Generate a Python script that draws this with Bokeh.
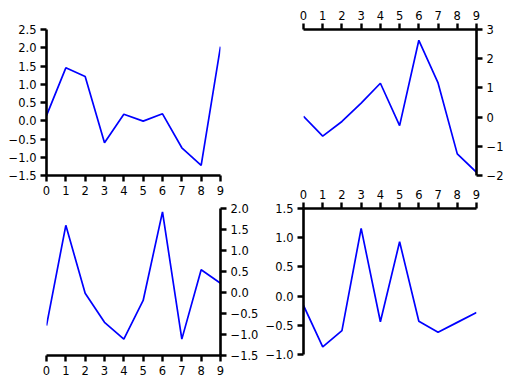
from bokeh.plotting import figure
from bokeh.layouts import row, column
from bokeh.models import Range1d, FixedTicker
from bokeh.embed import file_html
from bokeh.resources import INLINE

x = [0, 1, 2, 3, 4, 5, 6, 7, 8, 9]
x_labels = ["0", "1", "2", "3", "4", "5", "6", "7", "8", "9"]

y1 = [0.14, 1.45, 1.21, -0.60, 0.18, -0.01, 0.19, -0.74, -1.22, 2.03]
y2 = [0.03, -0.65, -0.15, 0.48, 1.16, -0.29, 2.63, 1.17, -1.26, -1.89]
y3 = [-0.79, 1.60, -0.02, -0.71, -1.11, -0.19, 1.92, -1.11, 0.54, 0.22]
y4 = [-0.16, -0.87, -0.59, 1.16, -0.44, 0.93, -0.43, -0.62, -0.45, -0.28]

yt1 = [-1.5, -1.0, -0.5, 0.0, 0.5, 1.0, 1.5, 2.0, 2.5]
yl1 = ["\u22121.5", "\u22121.0", "\u22120.5", "0.0", "0.5", "1.0", "1.5", "2.0", "2.5"]
yt2 = [-2, -1, 0, 1, 2, 3]
yl2 = ["\u22122", "\u22121", "0", "1", "2", "3"]
yt3 = [-1.5, -1.0, -0.5, 0.0, 0.5, 1.0, 1.5, 2.0]
yl3 = ["\u22121.5", "\u22121.0", "\u22120.5", "0.0", "0.5", "1.0", "1.5", "2.0"]
yt4 = [-1.0, -0.5, 0.0, 0.5, 1.0, 1.5]
yl4 = ["\u22121.0", "\u22120.5", "0.0", "0.5", "1.0", "1.5"]

FONT = "DejaVu Sans"


def style_axis(ax, ticks, labels):
    ax.ticker = FixedTicker(ticks=ticks)
    ax.major_label_overrides = {t: l for t, l in zip(ticks, labels)}
    ax.axis_line_width = 2.6
    ax.axis_line_color = "black"
    ax.major_tick_line_width = 2.4
    ax.major_tick_line_color = "black"
    ax.major_tick_out = 6
    ax.major_tick_in = 0
    ax.minor_tick_line_color = None
    ax.major_label_text_font = FONT
    ax.major_label_text_font_size = "11.5px"
    ax.major_label_text_color = "black"
    ax.major_label_standoff = 4


def make(ys, yticks, ylabels, yr, xloc, yloc, borders, fh):
    left, right, top, bottom = borders
    fw = 174
    p = figure(width=left + fw + right, height=top + fh + bottom,
               x_range=Range1d(0, 9), y_range=Range1d(*yr),
               x_axis_location=xloc, y_axis_location=yloc,
               output_backend="svg", toolbar_location=None,
               min_border_left=left, min_border_right=right,
               min_border_top=top, min_border_bottom=bottom)
    p.outline_line_color = None
    p.grid.visible = False
    p.background_fill_color = "white"
    p.border_fill_color = "white"
    style_axis(p.xaxis[0], x, x_labels)
    style_axis(p.yaxis[0], yticks, ylabels)
    p.line(x, ys, line_color="blue", line_width=1.7)
    return p


p1 = make(y1, yt1, yl1, (-1.5, 2.5), "below", "left", (46, 42, 29, 22), 146)
p2 = make(y2, yt2, yl2, (-2, 3), "above", "right", (40, 30, 29, 11), 146)
p3 = make(y3, yt3, yl3, (-1.5, 2.0), "below", "right", (46, 42, 11, 22), 147)
p4 = make(y4, yt4, yl4, (-1.0, 1.5), "above", "left", (40, 30, 22, 18), 146)

layout = row(column(p1, p3, spacing=0), column(p2, p4, spacing=0), spacing=0)

open("out.html", "w").write(file_html(layout, INLINE))
